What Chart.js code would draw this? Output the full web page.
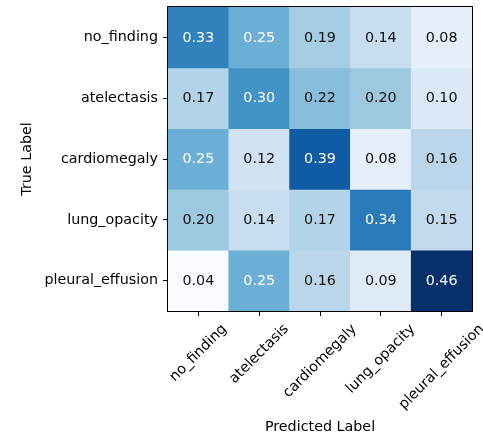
<!DOCTYPE html>
<html><head><meta charset="utf-8">
<script src="https://cdn.jsdelivr.net/npm/chart.js@4/dist/chart.umd.min.js"></script>
<style>html,body{margin:0;padding:0;background:#fff;} #wrap{width:483px;height:435px;position:relative;}</style>
</head><body><div id="wrap"><canvas id="c"></canvas></div>
<script>
// ---- data ----
const predictedLabels = ['no_finding', 'atelectasis', 'cardiomegaly', 'lung_opacity', 'pleural_effusion'];
const trueLabels = ['no_finding', 'atelectasis', 'cardiomegaly', 'lung_opacity', 'pleural_effusion'];
const rowNoFinding = [0.33, 0.25, 0.19, 0.14, 0.08];
const rowAtelectasis = [0.17, 0.30, 0.22, 0.20, 0.10];
const rowCardiomegaly = [0.25, 0.12, 0.39, 0.08, 0.16];
const rowLungOpacity = [0.20, 0.14, 0.17, 0.34, 0.15];
const rowPleuralEffusion = [0.04, 0.25, 0.16, 0.09, 0.46];
const xTitle = 'Predicted Label';
const yTitle = 'True Label';

const matrix = [rowNoFinding, rowAtelectasis, rowCardiomegaly, rowLungOpacity, rowPleuralEffusion];

// ---- styling helpers ----
const BLUES = ['#f7fbff','#deebf7','#c6dbef','#9ecae1','#6baed6','#4292c6','#2171b5','#08519c','#08306b'];
function hex(h){return [parseInt(h.slice(1,3),16),parseInt(h.slice(3,5),16),parseInt(h.slice(5,7),16)];}
function blues(t){
  t = Math.max(0, Math.min(1, t));
  const p = t * (BLUES.length - 1);
  const i = Math.min(Math.floor(p), BLUES.length - 2);
  const f = p - i;
  const a = hex(BLUES[i]), b = hex(BLUES[i+1]);
  return 'rgb(' + a.map((v,k)=>Math.round(v + (b[k]-v)*f)).join(',') + ')';
}
const allVals = matrix.flat();
const vmin = Math.min(...allVals), vmax = Math.max(...allVals);
const thresh = (vmin + vmax) / 2;
const FONT = 'DejaVu Sans';
const FS = 14.3;

const datasets = matrix.map((row, i) => ({
  label: trueLabels[i],
  data: row.map(() => [i - 0.5, i + 0.5]),
  backgroundColor: row.map(v => blues((v - vmin) / (vmax - vmin))),
  borderWidth: 0,
  grouped: false,
  barPercentage: 1,
  categoryPercentage: 1
}));

const cellText = {
  id: 'cellText',
  afterDatasetsDraw(chart) {
    const ctx = chart.ctx;
    ctx.save();
    ctx.font = FS + 'px "' + FONT + '"';
    ctx.textAlign = 'center';
    ctx.textBaseline = 'middle';
    chart.data.datasets.forEach((ds, i) => {
      const meta = chart.getDatasetMeta(i);
      meta.data.forEach((el, j) => {
        const v = matrix[i][j];
        const c = el.getCenterPoint();
        ctx.fillStyle = v >= thresh ? '#ffffff' : '#111111';
        ctx.fillText(v.toFixed(2), c.x, c.y + 0.5);
      });
    });
    ctx.restore();
  }
};

const frameAndXLabels = {
  id: 'frameAndXLabels',
  afterDraw(chart) {
    const ctx = chart.ctx;
    const a = chart.chartArea;
    ctx.save();
    ctx.strokeStyle = '#000';
    ctx.lineWidth = 1;
    ctx.strokeRect(Math.round(a.left) - 0.5, Math.round(a.top) - 0.5, Math.round(a.right - a.left) + 1, Math.round(a.bottom - a.top) + 1);
    // rotated x tick labels, centred on ticks (matplotlib style)
    const xs = chart.scales.x;
    ctx.font = FS + 'px "' + FONT + '"';
    ctx.fillStyle = '#000';
    ctx.textAlign = 'center';
    ctx.textBaseline = 'middle';
    const top = a.bottom + 10;
    predictedLabels.forEach((lab, j) => {
      const x = xs.getPixelForTick(j);
      const w = ctx.measureText(lab).width;
      const h = FS * 1.16;
      const boxH = (w + h) / Math.SQRT2;
      ctx.save();
      ctx.translate(x, top + boxH / 2);
      ctx.rotate(-Math.PI / 4);
      ctx.fillText(lab, 0, 0);
      ctx.restore();
    });
    ctx.restore();
  }
};

Chart.defaults.font.family = FONT;
Chart.defaults.font.size = FS;
Chart.defaults.color = '#000';

new Chart(document.getElementById('c'), {
  type: 'bar',
  data: { labels: predictedLabels, datasets },
  options: {
    responsive: true,
    maintainAspectRatio: false,
    animation: false,
    layout: { padding: { top: 7, right: 11, left: 0, bottom: 0 } },
    plugins: { legend: { display: false }, tooltip: { enabled: false } },
    scales: {
      x: {
        type: 'category',
        offset: true,
        grid: { offset: false, drawOnChartArea: false, drawTicks: true, tickLength: 5, color: '#000', lineWidth: 1 },
        border: { display: false },
        ticks: { display: false },
        title: { display: true, text: xTitle, color: '#000', font: { size: FS }, padding: { top: 0, bottom: -1 } },
        afterFit(s) { s.height = 124; s.paddingLeft = 0; s.paddingRight = 0; }
      },
      y: {
        type: 'linear',
        reverse: true,
        min: -0.5,
        max: 4.5,
        grid: { drawOnChartArea: false, drawTicks: true, tickLength: 5, color: '#000', lineWidth: 1 },
        border: { display: false },
        afterBuildTicks(s) { s.ticks = trueLabels.map((_, i) => ({ value: i })); },
        ticks: {
          padding: 5,
          color: '#000',
          font: { size: FS },
          callback: v => trueLabels[v]
        },
        title: { display: true, text: yTitle, color: '#000', font: { size: FS }, padding: { top: 19, bottom: 0 } },
        afterFit(s) { s.width = 168; s.paddingTop = 0; s.paddingBottom = 0; }
      }
    }
  },
  plugins: [cellText, frameAndXLabels]
});
</script>
</body></html>
